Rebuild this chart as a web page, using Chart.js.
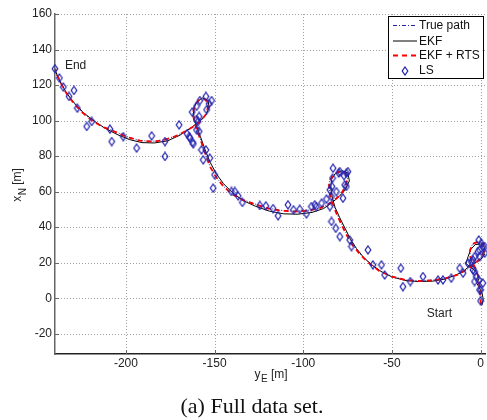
<!DOCTYPE html>
<html>
<head>
<meta charset="utf-8">
<title>Full data set</title>
<script src="https://cdn.jsdelivr.net/npm/chart.js"></script>
<style>
  body { margin: 0; background: #fff; }
  canvas { display: block; }
</style>
</head>
<body>
<canvas id="chart" width="487" height="420"></canvas>
<script>
// axis limits and ticks (y_E on x, x_N on y)
const xRange = [-240, 2.5];
const yRange = [-31.4, 160];
const xTicks = [-200, -150, -100, -50, 0];
const yTicks = [-20, 0, 20, 40, 60, 80, 100, 120, 140, 160];
const seriesNames = ['True path', 'EKF', 'EKF + RTS', 'LS'];

// [y_E, x_N] pairs
const truePath = [
  [0,-3],[-0.4,3],[-0.8,8],[-1.6,13],[-3,17],[-4.5,20],[-5.8,23.5],[-6,27],[-4.5,30.5],[-1.8,32],
  [1,31],[2.3,28],[1.3,24.5],[-1.5,21],[-4.5,18.5],[-8,16],[-13,13.3],[-20,11.3],[-27,10.2],[-35,9.8],
  [-42,10.3],[-50,12.3],[-57,15.5],[-63,20],[-68,25],[-72,30],[-75.5,36],[-78.5,42],[-81.5,48.5],[-83.5,54],
  [-85.3,60],[-85.5,65],[-83.5,69],[-80,71.2],[-76.5,70.8],[-75,67.5],[-76,63],[-78.5,59],[-81.5,56],[-85,53.5],
  [-90,51],[-97,49.5],[-105,49],[-113,49.5],[-120,50.8],[-127,53],[-134,55.5],[-140,58.5],[-145,63],[-149,68],
  [-152.5,74],[-155,81],[-157.5,88],[-159.5,93.5],[-161,98],[-162.3,103],[-161.5,108.5],[-158.5,112],[-155,112],[-153.3,108.5],
  [-154.5,104],[-157.5,100],[-161.5,97],[-166,94.3],[-172,91.3],[-178,89.3],[-185,88.3],[-192,88.8],[-199,90.8],[-206,93.8],
  [-213,96.5],[-219,100],[-225,105],[-230,110.5],[-234,116],[-237,121.5],[-238.8,125.5],[-239.8,129]
];
const ekfPath = [
  [0.8,-4],[1.5,-0.5],[0.8,3],[-1,6.5],[-2.2,8.5],[-0.8,11],[-2,14.5],[-5.5,17.5],[-8.3,19.5],[-7,23.5],
  [-5.5,27.5],[-3,30.2],[0,30.5],[2.5,28.5],[2.4,25],[0.3,22],[-3,20],[-6.5,17.8],[-10,15],[-14,13],
  [-20,10.8],[-27,9.6],[-35,9.4],[-42,9.9],[-50,12],[-56,15],[-61,18.5],[-66,23],[-70,28],[-73.5,33.5],
  [-76.5,39.5],[-79.5,45.5],[-82,51],[-83.5,56],[-84.5,62],[-84,67],[-81.8,70.3],[-78,71.8],[-74.8,70.5],[-74,66],
  [-76.3,61],[-79.5,57.5],[-83.5,54],[-88.5,50.5],[-95,48.3],[-103,47.3],[-111,47.5],[-119,49],[-127,51.8],[-134,55],
  [-140,59.5],[-145,64.5],[-149,70],[-152.5,76.5],[-155.5,84],[-158,91],[-160,96.5],[-161.5,101],[-162,105.5],[-160.5,110],
  [-157,112.8],[-153.8,111.5],[-153,107.5],[-155,103],[-159,99.2],[-163.5,95.8],[-169.5,91.8],[-176.5,88.6],[-184,87.4],[-191,87.6],
  [-198,89.3],[-205,92.2],[-212,95.8],[-218,99.8],[-224,104.5],[-229,109.8],[-233.5,115.5],[-236.5,120.8],[-238.6,125],[-239.8,128.3]
];
const rtsPath = [
  [0.2,-3.5],[-0.2,2.5],[-0.7,7.5],[-1.4,12.5],[-2.8,16.8],[-4.6,20],[-5.9,23.7],[-5.9,27.2],[-4.3,30.6],[-1.6,31.8],
  [1.1,30.7],[2.2,27.7],[1.1,24.2],[-1.7,20.8],[-4.7,18.3],[-8.2,15.8],[-13.2,13.1],[-20.2,11.1],[-27.2,10],[-35.2,9.7],
  [-42.2,10.2],[-50.2,12.2],[-57.2,15.4],[-63.2,19.9],[-68.2,24.9],[-72.3,30],[-75.8,36],[-78.8,42.2],[-81.7,48.7],[-83.7,54.3],
  [-85.4,60.2],[-85.4,65.2],[-83.3,69.2],[-79.8,71.2],[-76.4,70.6],[-75.1,67.3],[-76.2,62.8],[-78.7,58.8],[-81.7,55.8],[-85.2,53.3],
  [-90.2,50.8],[-97.2,49.3],[-105.2,48.8],[-113.2,49.3],[-120.2,50.6],[-127.2,52.8],[-134.2,55.4],[-140.2,58.6],[-145.2,63.2],[-149.2,68.3],
  [-152.7,74.3],[-155.2,81.3],[-157.6,88.2],[-159.6,93.7],[-161.1,98.2],[-162.2,103.3],[-161.3,108.7],[-158.3,112],[-155,111.8],[-153.5,108.3],
  [-154.7,103.8],[-157.7,99.8],[-161.7,96.8],[-166.2,94.1],[-172.2,91.1],[-178.2,89.1],[-185.2,88.1],[-192.2,88.7],[-199.2,90.7],[-206.2,93.7],
  [-213.2,96.5],[-219.2,100],[-225.2,105.1],[-230.1,110.6],[-234.1,116.2],[-237,121.7],[-238.8,125.7],[-239.8,129.2]
];
const lsFixes = [
  [0,-1.5],[0,4.7],[-0.6,4.7],[1.3,8.5],[-1,10.3],[-3.4,9.4],[-2.4,12.2],[-3.4,15],[-4.3,15.9],[-9.9,14.1],
  [-11.8,16.9],[-7.1,19.7],[-5.2,20.6],[-4.3,21.6],[-3.4,23.4],[-0.6,23.4],[-1.5,26.3],[-0.6,27.2],[2.3,25.4],[1.3,29.1],
  [2.3,29.1],[0.4,31],[-1,32.8],[-16.5,11.3],[-21.2,10.3],[-24,10.3],[-32.5,12.2],[-39.6,9.4],[-43.8,6.5],[-45,16.9],
  [-54.1,13.1],[-55.9,18.8],[-60.7,18.8],[-63.5,27.2],[-72.8,29.1],[-73.8,32.8],[-79.4,34.7],[-81.7,39.4],[-84.1,43.2],[-85,51.6],
  [-84.1,57.2],[-85,61],[-86.9,55.8],[-89.7,53.5],[-77.6,56.3],[-75.7,62.9],[-76.6,63.8],[-81.3,60],[-83.8,62.9],[-83.5,67.6],
  [-83.2,73.2],[-79.4,71.3],[-80,70.5],[-77,69],[-75.7,70.4],[-74.8,71.3],[-92.6,51.6],[-93.5,52.6],[-95.4,51.6],[-98.2,47.5],
  [-102,50.1],[-105.5,49.8],[-108.6,52.6],[-114.2,46.4],[-117,50.5],[-121.1,52],[-124.5,52.2],[-134.3,53.9],[-136.7,57.6],[-138.6,60.1],
  [-140.5,60.1],[-150.8,62],[-150,69.5],[-152.7,78.9],[-156.4,77.9],[-154.9,83.5],[-157.4,83.5],[-162,86.9],[-158.7,93.9],[-160.2,94.8],
  [-164.3,91],[-165.5,92.6],[-163.9,90.1],[-162.4,87.7],[-159.3,99.5],[-160.2,100.5],[-158.7,102.3],[-154.5,106.1],[-162.6,104.8],[-160.2,108],
  [-158.3,111.3],[-154.9,113.6],[-151.7,111.3],[-153.1,109.5],[-170,97.6],[-178,88.2],[-178,79.8],[-185.5,91.4],[-194,84.5],[-201.5,91],
  [-208,88.2],[-209,95.2],[-219.3,99.5],[-222.1,96.7],[-227.4,107],[-229.3,117],[-232.1,113.6],[-235.3,118.9],[-237.5,124],[-240,129.2]
];

const FONT = "'Liberation Sans', Arial, Helvetica, sans-serif";
const blue = '#2222a0';
const lsBlue = '#2424b0';
const axisGrey = '#666';

function toXY(list) { return list.map(([x, y]) => ({ x, y })); }

// tall, hollow diamond like the matlab 'd' marker
function diamond(color) {
  const c = document.createElement('canvas');
  c.width = 8; c.height = 10;
  const g = c.getContext('2d');
  g.strokeStyle = color; g.lineWidth = 1.25;
  g.beginPath();
  g.moveTo(4, 1); g.lineTo(6.8, 5); g.lineTo(4, 9); g.lineTo(1.2, 5);
  g.closePath(); g.stroke();
  return c;
}
const marker = diamond(lsBlue);

const datasets = [
  { label: seriesNames[0], data: toXY(truePath), showLine: true, pointRadius: 0, borderColor: blue,
    borderWidth: 1, borderDash: [4, 2, 1, 2], order: 3 },
  { label: seriesNames[1], data: toXY(ekfPath), showLine: true, pointRadius: 0, borderColor: '#000',
    borderWidth: 1, order: 2 },
  { label: seriesNames[2], data: toXY(rtsPath), showLine: true, pointRadius: 0, borderColor: '#ff0000',
    borderWidth: 1.8, borderDash: [5, 4], order: 1 },
  { label: seriesNames[3], data: toXY(lsFixes), showLine: false, pointStyle: marker, pointRadius: 4,
    borderColor: lsBlue, backgroundColor: 'transparent', order: 0, clip: false }
];

// write a label with a subscript, starting at x
function subText(ctx, x, y, main, sub, rest) {
  ctx.font = '12px ' + FONT;
  ctx.fillText(main, x, y);
  x += ctx.measureText(main).width + 0.5;
  ctx.font = '10px ' + FONT;
  ctx.fillText(sub, x, y + 4.5);
  x += ctx.measureText(sub).width;
  ctx.font = '12px ' + FONT;
  ctx.fillText(rest, x, y);
}
function subWidth(ctx, main, sub, rest) {
  ctx.font = '12px ' + FONT;
  let w = ctx.measureText(main).width + ctx.measureText(rest).width + 0.5;
  ctx.font = '10px ' + FONT;
  return w + ctx.measureText(sub).width;
}

// dotted grid, under the data
const dottedGrid = {
  id: 'dottedGrid',
  beforeDatasetsDraw(chart) {
    const { ctx, chartArea: a, scales: { x, y } } = chart;
    ctx.save();
    ctx.strokeStyle = '#a0a0a0'; ctx.lineWidth = 1;
    ctx.setLineDash([1, 2]);
    ctx.beginPath();
    xTicks.forEach(v => { const p = Math.round(x.getPixelForValue(v)) + 0.5; ctx.moveTo(p, a.top); ctx.lineTo(p, a.bottom); });
    yTicks.forEach(v => { const p = Math.round(y.getPixelForValue(v)) + 0.5; ctx.moveTo(a.left, p); ctx.lineTo(a.right, p); });
    ctx.stroke();
    ctx.restore();
  }
};

const extras = {
  id: 'extras',
  afterDraw(chart) {
    const { ctx, chartArea: a, scales: { x, y } } = chart;
    ctx.save();

    // inward tick marks
    ctx.strokeStyle = axisGrey; ctx.lineWidth = 1;
    ctx.beginPath();
    yTicks.forEach(v => { const p = Math.round(y.getPixelForValue(v)) + 0.5; ctx.moveTo(a.left, p); ctx.lineTo(a.left + 4, p); });
    xTicks.forEach(v => { const p = Math.round(x.getPixelForValue(v)) + 0.5; ctx.moveTo(p, a.bottom); ctx.lineTo(p, a.bottom - 4); });
    ctx.stroke();

    // End / Start notes
    ctx.fillStyle = '#222';
    ctx.font = '12px ' + FONT;
    ctx.textBaseline = 'middle'; ctx.textAlign = 'left';
    ctx.fillText('End', x.getPixelForValue(-234.4), y.getPixelForValue(130.9));
    ctx.fillText('Start', x.getPixelForValue(-30.4), y.getPixelForValue(-8.8));

    // axis titles
    ctx.textBaseline = 'alphabetic';
    const xw = subWidth(ctx, 'y', 'E', ' [m]');
    subText(ctx, 271 - xw / 2, 377.5, 'y', 'E', ' [m]');
    ctx.save();
    ctx.translate(21, (a.top + a.bottom) / 2 + 1);
    ctx.rotate(-Math.PI / 2);
    const yw = subWidth(ctx, 'x', 'N', ' [m]');
    subText(ctx, -yw / 2, 0, 'x', 'N', ' [m]');
    ctx.restore();

    // legend
    const L = { x: 388.5, y: 16.5, w: 95, h: 62 };
    ctx.fillStyle = '#fff';
    ctx.fillRect(L.x, L.y, L.w, L.h);
    ctx.strokeStyle = '#000'; ctx.lineWidth = 1;
    ctx.strokeRect(L.x, L.y, L.w, L.h);
    const rows = [25.5, 41, 55.5, 70.5];
    ctx.font = '12px ' + FONT;
    ctx.textBaseline = 'middle';
    datasets.forEach((d, i) => {
      const ry = rows[i];
      if (d.showLine) {
        ctx.save();
        ctx.strokeStyle = d.borderColor; ctx.lineWidth = d.borderWidth;
        ctx.setLineDash(d.borderDash || []);
        ctx.beginPath(); ctx.moveTo(393, ry); ctx.lineTo(417, ry); ctx.stroke();
        ctx.restore();
      } else {
        ctx.drawImage(marker, 405 - marker.width / 2, Math.round(ry - marker.height / 2));
      }
      ctx.fillStyle = '#111';
      ctx.fillText(d.label, 419, ry + 0.5);
    });

    // caption
    ctx.fillStyle = '#111';
    ctx.font = "22px 'Liberation Serif', 'Times New Roman', serif";
    ctx.textAlign = 'center'; ctx.textBaseline = 'alphabetic';
    ctx.fillText('(a) Full data set.', 252, 413);
    ctx.restore();
  }
};

new Chart(document.getElementById('chart'), {
  type: 'scatter',
  data: { datasets },
  options: {
    responsive: false,
    animation: false,
    events: [],
    layout: { padding: { top: 14, right: 2, left: 0, bottom: 0 }, autoPadding: false },
    plugins: { legend: { display: false }, tooltip: { enabled: false } },
    elements: { line: { tension: 0, fill: false } },
    scales: {
      x: {
        type: 'linear', min: xRange[0], max: xRange[1],
        afterBuildTicks: s => { s.ticks = xTicks.map(v => ({ value: v })); },
        afterFit: s => { s.height = 66; },
        grid: { display: false, drawTicks: false, tickLength: 0 },
        border: { display: true, color: '#222', width: 1.5 },
        ticks: { color: '#222', font: { family: FONT, size: 12 }, padding: 2, maxRotation: 0, autoSkip: false }
      },
      y: {
        type: 'linear', min: yRange[0], max: yRange[1],
        afterBuildTicks: s => { s.ticks = yTicks.map(v => ({ value: v })); },
        afterFit: s => { s.width = 55; },
        grid: { display: false, drawTicks: false, tickLength: 0 },
        border: { display: true, color: axisGrey, width: 1.5 },
        ticks: { color: '#222', font: { family: FONT, size: 12 }, padding: 3, autoSkip: false }
      }
    }
  },
  plugins: [dottedGrid, extras]
});
</script>
</body>
</html>
